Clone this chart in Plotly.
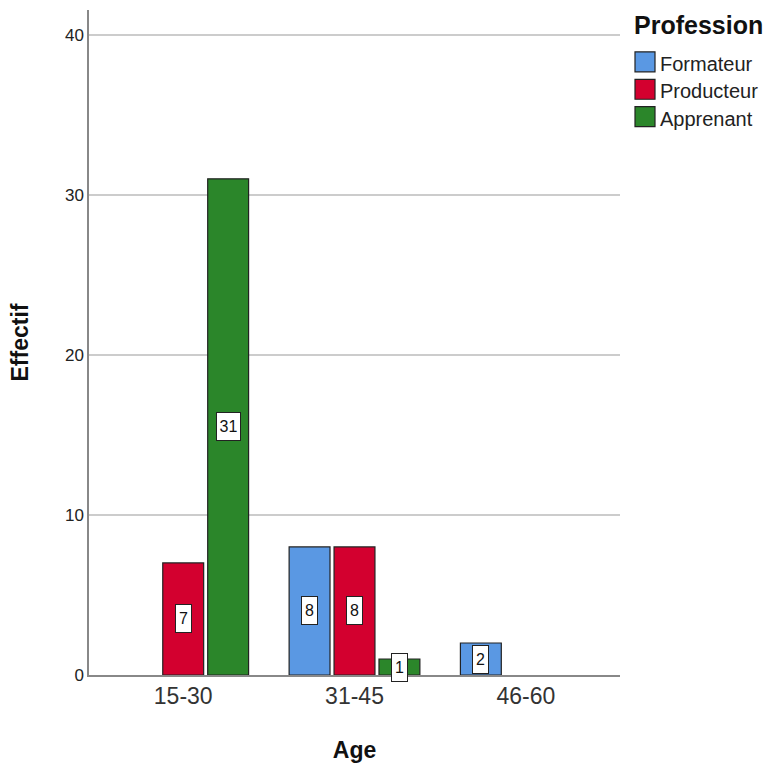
import plotly.graph_objects as go

# Counts by age group and profession
age_groups = ["15-30", "31-45", "46-60"]
professions = ["Formateur", "Producteur", "Apprenant"]
counts = {
    "Formateur": [0, 8, 2],
    "Producteur": [7, 8, 0],
    "Apprenant": [31, 1, 0],
}
colors = {
    "Formateur": "#5A98E3",
    "Producteur": "#D3002F",
    "Apprenant": "#2B862A",
}
y_ticks = [0, 10, 20, 30, 40]

FONT = "Liberation Sans, Arial, sans-serif"
BARGAP = 0.213
BARGROUPGAP = 0.09
W, H = 769, 769
ML, MR, MT, MB = 89, 149, 10, 92


def px_to_paper(px, py):
    """Convert pixel coordinates of the page to paper coordinates."""
    return (px - ML) / (W - ML - MR), (H - MB - py) / (H - MT - MB)


fig = go.Figure()
for p in professions:
    fig.add_trace(go.Bar(
        name=p,
        x=age_groups,
        y=[v if v > 0 else None for v in counts[p]],
        marker=dict(color=colors[p], line=dict(color="#222222", width=1.2)),
        showlegend=False,
    ))

# Value labels in white boxes at the middle of each bar
slot = (1 - BARGAP) / len(professions)
for i, p in enumerate(professions):
    offset = (i - (len(professions) - 1) / 2) * slot
    for j, v in enumerate(counts[p]):
        if v <= 0:
            continue
        fig.add_annotation(
            x=j + offset, y=v / 2, xref="x", yref="y",
            text=str(v), showarrow=False,
            font=dict(family=FONT, size=16, color="#111111"),
            bgcolor="white", bordercolor="#222222", borderwidth=1,
            width=13 if v < 10 else 21, height=25, borderpad=1,
        )

# Legend: title, colour swatches and names
tx, ty = px_to_paper(632, 25)
fig.add_annotation(
    x=tx, y=ty, xref="paper", yref="paper", xanchor="left", yanchor="middle",
    text="<b>Profession</b>", showarrow=False,
    font=dict(family=FONT, size=25, color="#111111"),
)
for k, p in enumerate(professions):
    cy = 62 + 27.5 * k
    x0, y0 = px_to_paper(635, cy + 10)
    x1, y1 = px_to_paper(655, cy - 10)
    fig.add_shape(
        type="rect", xref="paper", yref="paper", x0=x0, y0=y0, x1=x1, y1=y1,
        fillcolor=colors[p], line=dict(color="#222222", width=1.2),
    )
    lx, ly = px_to_paper(658, cy + 2)
    fig.add_annotation(
        x=lx, y=ly, xref="paper", yref="paper", xanchor="left", yanchor="middle",
        text=p, showarrow=False,
        font=dict(family=FONT, size=20, color="#222222"),
    )

fig.update_layout(
    width=W, height=H,
    margin=dict(l=ML, r=MR, t=MT, b=MB),
    paper_bgcolor="white", plot_bgcolor="white",
    barmode="group", bargap=BARGAP, bargroupgap=BARGROUPGAP,
    font=dict(family=FONT, color="#222222"),
    showlegend=False,
    xaxis=dict(
        type="category", range=[-0.55, 2.55],
        showline=True, linecolor="#888888", linewidth=1.5,
        showgrid=False, ticks="",
        tickfont=dict(size=23, color="#333333"),
        title=dict(text="<b>Age</b>", font=dict(size=23, color="#111111"), standoff=34),
    ),
    yaxis=dict(
        range=[0, 41.55], tickvals=y_ticks,
        showline=True, linecolor="#888888", linewidth=1.5,
        showgrid=True, gridcolor="#CCCCCC", gridwidth=1.5,
        zeroline=False, ticks="",
        tickfont=dict(size=17, color="#222222"),
        title=dict(text="<b>Effectif</b>", font=dict(size=23, color="#111111"), standoff=30),
    ),
)

fig.write_html("out.html")
